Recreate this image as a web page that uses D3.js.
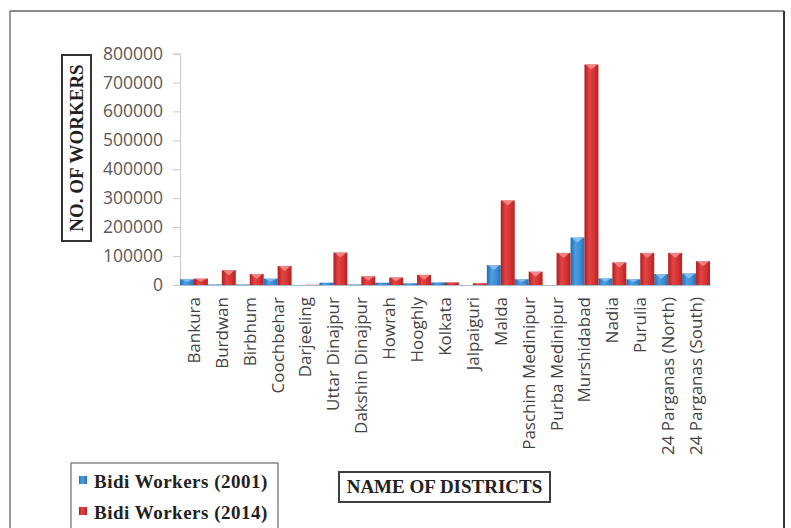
<!DOCTYPE html>
<html lang="en">
<head>
  <meta charset="UTF-8">
  <title>Bidi Workers by District</title>
  <style>
    body { margin: 0; background: #fff; }
    svg { display: block; }
    .ytick text { font-family: "Open Sans", sans-serif; font-size: 17.5px; fill: #595959; }
    .xtick text { font-family: "Open Sans", sans-serif; font-size: 17px; fill: #444; }
    .serif { font-family: "Liberation Serif", "Times New Roman", serif; font-weight: bold; fill: #222; }
  </style>
</head>
<body>
  <svg id="chart" width="791" height="528"></svg>
  <script src="https://d3js.org/d3.v7.min.js"></script>
  <script>
    // district names along the x axis
    const districts = ["Bankura", "Burdwan", "Birbhum", "Coochbehar", "Darjeeling", "Uttar Dinajpur",
      "Dakshin Dinajpur", "Howrah", "Hooghly", "Kolkata", "Jalpaiguri", "Malda", "Paschim Medinipur",
      "Purba Medinipur", "Murshidabad", "Nadia", "Purulia", "24 Parganas (North)", "24 Parganas (South)"];

    // values
    const workers2001 = [20000, 2000, 2000, 22000, 0, 8000, 2000, 8000, 6000, 9000, 0, 69000, 20000, 0,
      164000, 23000, 20000, 38000, 40000];
    const workers2014 = [22000, 51000, 38000, 66000, 1000, 112000, 30000, 26000, 35000, 9000, 6000, 292000,
      46000, 111000, 762000, 78000, 111000, 111000, 82000];

    const seriesNames = ["Bidi Workers (2001)", "Bidi Workers (2014)"];
    const yTicks = [0, 100000, 200000, 300000, 400000, 500000, 600000, 700000, 800000];

    const svg = d3.select("#chart");
    const plot = { left: 180, right: 710, top: 53.5, bottom: 285 };

    // frame
    svg.append("line").attr("x1", 10).attr("x2", 784).attr("y1", 11).attr("y2", 11)
      .attr("stroke", "#8c8c8c").attr("stroke-width", 2);
    svg.append("line").attr("x1", 10).attr("x2", 10).attr("y1", 11).attr("y2", 528)
      .attr("stroke", "#777").attr("stroke-width", 1.5);
    svg.append("line").attr("x1", 784).attr("x2", 784).attr("y1", 11).attr("y2", 528)
      .attr("stroke", "#333").attr("stroke-width", 2);

    // gradients for the bevelled bars
    const defs = svg.append("defs");
    const palettes = [
      { id: "g2001", stops: ["#1d6cb3", "#4d9fe2", "#3a8bd2", "#2270b8"], cap: "#8fc4ee" },
      { id: "g2014", stops: ["#b01c1c", "#e24444", "#d63232", "#b82020"], cap: "#f29090" }
    ];
    palettes.forEach(p => {
      const g = defs.append("linearGradient").attr("id", p.id)
        .attr("x1", "0%").attr("x2", "100%").attr("y1", "0%").attr("y2", "0%");
      [0, 35, 70, 100].forEach((o, i) => g.append("stop").attr("offset", o + "%").attr("stop-color", p.stops[i]));
    });

    const x0 = d3.scaleBand().domain(districts).range([plot.left, plot.right]).padding(0);
    const x1 = d3.scaleBand().domain([0, 1]).range([0, x0.bandwidth()]).padding(0);
    const y = d3.scaleLinear().domain([0, 800000]).range([plot.bottom, plot.top]);

    // y axis
    const yAxis = svg.append("g").attr("class", "ytick")
      .attr("transform", `translate(${plot.left},0)`)
      .call(d3.axisLeft(y).tickValues(yTicks).tickFormat(d3.format("d")).tickSize(7).tickPadding(10));
    yAxis.select(".domain").attr("stroke", "#c8c8c8");
    yAxis.selectAll(".tick line").attr("stroke", "#c8c8c8");

    // x axis
    const xAxis = svg.append("g").attr("class", "xtick")
      .attr("transform", `translate(0,${plot.bottom})`)
      .call(d3.axisBottom(x0).tickSize(0).tickPadding(0));
    xAxis.select(".domain").attr("stroke", "#a9bccd");
    xAxis.selectAll(".tick text")
      .attr("transform", "rotate(-90)")
      .attr("text-anchor", "end")
      .attr("x", -12).attr("y", 0).attr("dy", "0.35em");

    // bars
    const series = [workers2001, workers2014];
    series.forEach((vals, si) => {
      const p = palettes[si];
      const g = svg.append("g");
      districts.forEach((name, i) => {
        const v = vals[i];
        if (v <= 0) return;
        const bx = x0(name) + x1(si);
        const bw = x1.bandwidth();
        const top = y(v);
        const h = plot.bottom - top;
        g.append("rect").attr("x", bx).attr("y", top).attr("width", bw).attr("height", h)
          .attr("fill", `url(#${p.id})`);
        if (h > 4) {
          const ch = Math.min(5, h / 2);
          g.append("polygon")
            .attr("points", `${bx + 1},${top} ${bx + bw - 1},${top} ${bx + bw / 2},${top + ch}`)
            .attr("fill", p.cap).attr("opacity", 0.85);
        }
      });
    });

    // y axis title
    svg.append("rect").attr("x", 62).attr("y", 55).attr("width", 29).attr("height", 186)
      .attr("fill", "#fff").attr("stroke", "#333").attr("stroke-width", 2);
    svg.append("text").attr("class", "serif")
      .attr("transform", "translate(83,148) rotate(-90)")
      .attr("text-anchor", "middle").attr("font-size", 19)
      .text("NO. OF WORKERS");

    // x axis title
    svg.append("rect").attr("x", 339).attr("y", 472).attr("width", 211).attr("height", 30)
      .attr("fill", "#fff").attr("stroke", "#3a4246").attr("stroke-width", 2);
    svg.append("text").attr("class", "serif")
      .attr("x", 444.5).attr("y", 493).attr("text-anchor", "middle").attr("font-size", 19)
      .text("NAME OF DISTRICTS");

    // legend
    svg.append("rect").attr("x", 71).attr("y", 463).attr("width", 207).attr("height", 80)
      .attr("fill", "#fff").attr("stroke", "#888").attr("stroke-width", 1.5);
    seriesNames.forEach((s, i) => {
      const ly = 488 + i * 31;
      svg.append("rect").attr("x", 79).attr("y", ly - 12).attr("width", 8).attr("height", 8)
        .attr("fill", `url(#${palettes[i].id})`);
      svg.append("text").attr("class", "serif")
        .attr("x", 94).attr("y", ly).attr("font-size", 19).attr("letter-spacing", 0.5).text(s);
    });
  </script>
</body>
</html>
